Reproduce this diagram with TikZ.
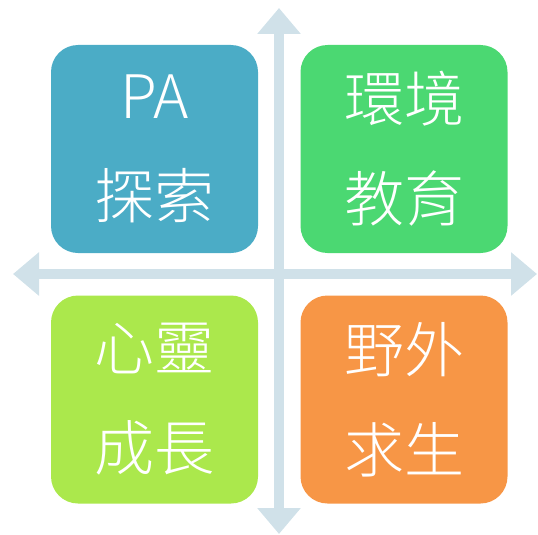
\documentclass[tikz,border=0pt]{standalone}
\usepackage{fontspec}
\setmainfont{Noto Sans CJK TC}[UprightFont=* Light]
\usetikzlibrary{arrows.meta}
\definecolor{axisblue}{HTML}{D0E1E9}
\definecolor{quadblue}{HTML}{4BACC6}
\definecolor{quadgreen}{HTML}{4BD872}
\definecolor{quadlime}{HTML}{ABE84C}
\definecolor{quadorange}{HTML}{F79646}

\begin{document}
\begin{tikzpicture}[x=1pt, y=-1pt,
  quad/.style={rounded corners=27pt, minimum width=207pt, minimum height=208pt,
    inner sep=0pt, align=center, text=white, font=\fontsize{60}{100}\selectfont},
  axis/.style={line width=10.5pt, axisblue,
    {Triangle[width=42pt,length=26pt]}-{Triangle[width=42pt,length=26pt]}}]
  \useasboundingbox (0,0) rectangle (538,535);

  % axes
  \coordinate (top)    at (279,8);
  \coordinate (bottom) at (279,534);
  \coordinate (left)   at (13,274);
  \coordinate (right)  at (537,274);
  \draw[axis] (left) -- (right);
  \draw[axis] (top) -- (bottom);

  % quadrants
  \node[quad, fill=quadblue]   (pa)     at (154.5,149)   {PA\\探索};
  \node[quad, fill=quadgreen]  (env)    at (404,149)     {環境\\教育};
  \node[quad, fill=quadlime]   (spirit) at (154.5,399.5) {心靈\\成長};
  \node[quad, fill=quadorange] (wild)   at (404,399.5)   {野外\\求生};
\end{tikzpicture}
\end{document}
